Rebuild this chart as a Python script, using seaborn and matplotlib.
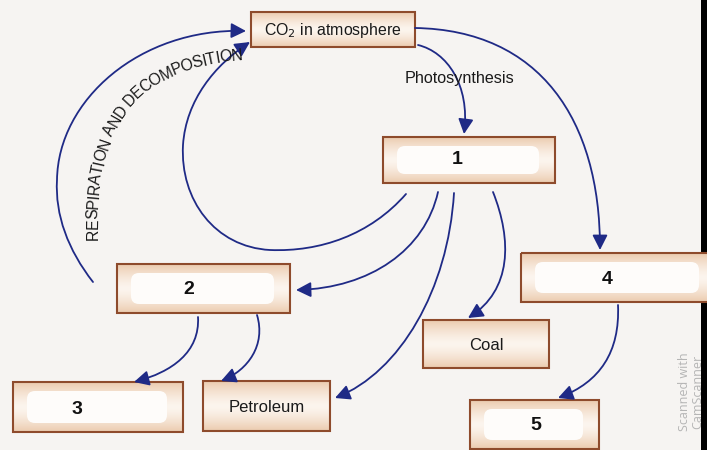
import numpy as np
import matplotlib
matplotlib.use("Agg")
import matplotlib.pyplot as plt
import seaborn as sns
from matplotlib.patches import FancyArrowPatch, FancyBboxPatch, Rectangle
from matplotlib.path import Path
from matplotlib.textpath import TextPath
from matplotlib.font_manager import FontProperties

# ==========================================
# 1. DATA: nodes and flows of the carbon cycle
# ==========================================
box_keys = ["co2", "one", "two", "three", "petroleum", "coal", "four", "five"]
box_labels = ["CO$_2$ in atmosphere", "1", "2", "3", "Petroleum", "Coal", "4", "5"]
blank_boxes = ["one", "two", "three", "four", "five"]

flow_from = ["co2", "co2", "one", "two", "one", "one", "one", "two", "two", "four"]
flow_to = ["four", "one", "co2", "co2", "two", "petroleum", "coal", "three", "petroleum", "five"]
flow_labels = ["", "Photosynthesis", "", "RESPIRATION AND DECOMPOSITION", "", "", "", "", "", ""]

# ==========================================
# 2. LAYOUT (pixel coordinates of the page)
# ==========================================
box_xy = {
    "co2": (251, 12, 415, 47),
    "one": (383, 137, 555, 183),
    "two": (117, 264, 290, 313),
    "three": (13, 382, 183, 432),
    "petroleum": (203, 381, 330, 431),
    "coal": (423, 320, 549, 368),
    "four": (521, 253, 715, 302),
    "five": (470, 400, 599, 449),
}
label_xy = {
    "co2": (333, 31), "one": (457, 160), "two": (189, 290), "three": (77, 410),
    "petroleum": (267, 408), "coal": (486, 345), "four": (607, 280), "five": (536, 425),
}
# bezier routes (start, ctrl, ctrl, end, ...)
routes = [
    [(415, 28), (540, 30), (600, 120), (600, 250)],
    [(418, 45), (447, 52), (470, 85), (464, 134)],
    [(406, 194), (370, 235), (320, 252), (270, 250),
     (215, 247), (180, 200), (183, 145),
     (186, 100), (215, 65), (250, 42)],
    [(93, 282), (68, 250), (55, 215), (57, 180),
     (58, 100), (140, 28), (246, 31)],
    [(438, 192), (425, 250), (370, 288), (296, 290)],
    [(454, 193), (448, 290), (400, 372), (335, 398)],
    [(493, 192), (512, 240), (512, 290), (468, 318)],
    [(198, 317), (200, 352), (172, 372), (134, 382)],
    [(257, 315), (266, 345), (248, 370), (221, 381)],
    [(618, 305), (620, 352), (600, 382), (558, 398)],
]
text_path_ctrl = [(93, 240), (92, 138), (116, 66), (242, 55)]

navy = "#1f2a86"
border = "#8e4b2c"
peach = np.array([236, 204, 176]) / 255
pale = np.array([252, 245, 238]) / 255

sns.set_theme(style="white")
plt.rcParams["font.family"] = ["Liberation Sans", "DejaVu Sans"]

fig = plt.figure(figsize=(7.07, 4.5), dpi=100)
fig.patch.set_facecolor("#f6f4f2")
ax = fig.add_axes([0, 0, 1, 1])
ax.set_facecolor("#f6f4f2")

# ==========================================
# 3. BOXES
# ==========================================
for key, label in zip(box_keys, box_labels):
    x0, y0, x1, y1 = box_xy[key]
    t = np.linspace(0, 1, 40)
    prof = np.abs(2 * t - 1) ** 1.4
    grad = pale[None, :] + (peach - pale)[None, :] * prof[:, None]
    ax.imshow(grad[:, None, :], extent=(x0, x1, y1, y0), origin="upper",
              aspect="auto", zorder=2, interpolation="bilinear")
    if key in blank_boxes:
        ax.add_patch(FancyBboxPatch((x0 + 16, y0 + 11), (x1 - x0) - 34, (y1 - y0) - 22,
                                    boxstyle="round,pad=2,rounding_size=8",
                                    fc="#fefcfa", ec="none", zorder=3))
    ax.add_patch(Rectangle((x0, y0), x1 - x0, y1 - y0, fill=False,
                           ec=border, lw=1.5, zorder=4))
    lx, ly = label_xy[key]
    if key in blank_boxes:
        ax.text(lx, ly, label, ha="center", va="center", fontsize=14,
                fontweight="bold", color="#111111", zorder=5)
    elif key == "co2":
        ax.text(lx, ly, label, ha="center", va="center", fontsize=11.4,
                color="#1a1a1a", zorder=5)
    else:
        ax.text(lx, ly, label, ha="center", va="center", fontsize=12,
                color="#1a1a1a", zorder=5)

# ==========================================
# 4. ARROWS
# ==========================================
for src, dst, route in zip(flow_from, flow_to, routes):
    codes = [Path.MOVETO] + [Path.CURVE4] * (len(route) - 1)
    arrow = FancyArrowPatch(path=Path(route, codes),
                            arrowstyle="-|>,head_length=0.75,head_width=0.38",
                            mutation_scale=12, color=navy, lw=1.3, zorder=6)
    ax.add_patch(arrow)

ax.text(460, 79, flow_labels[1], ha="center", va="center", fontsize=11.6,
        color="#1a1a1a", zorder=7)

# curved label along the respiration arrow
def bez(p, tt):
    p = np.array(p, dtype=float)
    tt = tt[:, None]
    return ((1 - tt) ** 3 * p[0] + 3 * (1 - tt) ** 2 * tt * p[1]
            + 3 * (1 - tt) * tt ** 2 * p[2] + tt ** 3 * p[3])

tt = np.linspace(0, 1, 2000)
pts = bez(text_path_ctrl, tt)
seg = np.hypot(*np.diff(pts, axis=0).T)
cum = np.concatenate([[0], np.cumsum(seg)])

resp = flow_labels[3]
fp = FontProperties(family="Liberation Sans", size=10)
base = TextPath((0, 0), "XX", prop=fp).get_extents().width
widths = np.array([TextPath((0, 0), "X" + c + "X", prop=fp).get_extents().width - base
                   for c in resp])
# spacing chosen so the label fills the arc
scale = cum[-1] / widths.sum()
widths = widths * scale
fs = 10 * scale * 72 / 100 * 1.04
pos = 0.0
for c, w in zip(resp, widths):
    s = pos + w / 2
    i = np.searchsorted(cum, s)
    i = min(max(i, 1), len(pts) - 1)
    dx, dy = pts[i] - pts[i - 1]
    ang = np.degrees(np.arctan2(-dy, dx))
    ax.text(pts[i][0], pts[i][1], c, fontsize=fs, rotation=ang,
            rotation_mode="anchor", ha="center", va="center",
            color="#1a1a1a", zorder=7)
    pos += w

# ==========================================
# 5. SCAN ARTEFACTS
# ==========================================
ax.text(684, 392, "Scanned with", rotation=90, ha="center", va="center",
        fontsize=9, color="#b5b5b5", family=["Open Sans", "DejaVu Sans"], zorder=1)
ax.text(698, 392, "CamScanner", rotation=90, ha="center", va="center",
        fontsize=9, color="#b5b5b5", family=["Open Sans", "DejaVu Sans"], zorder=1)
ax.add_patch(Rectangle((701, 0), 10, 450, fc="black", ec="none", zorder=1.5))

ax.set_xlim(0, 707)
ax.set_ylim(450, 0)
ax.axis("off")
fig.savefig("out.png", dpi=100, facecolor=fig.get_facecolor())
